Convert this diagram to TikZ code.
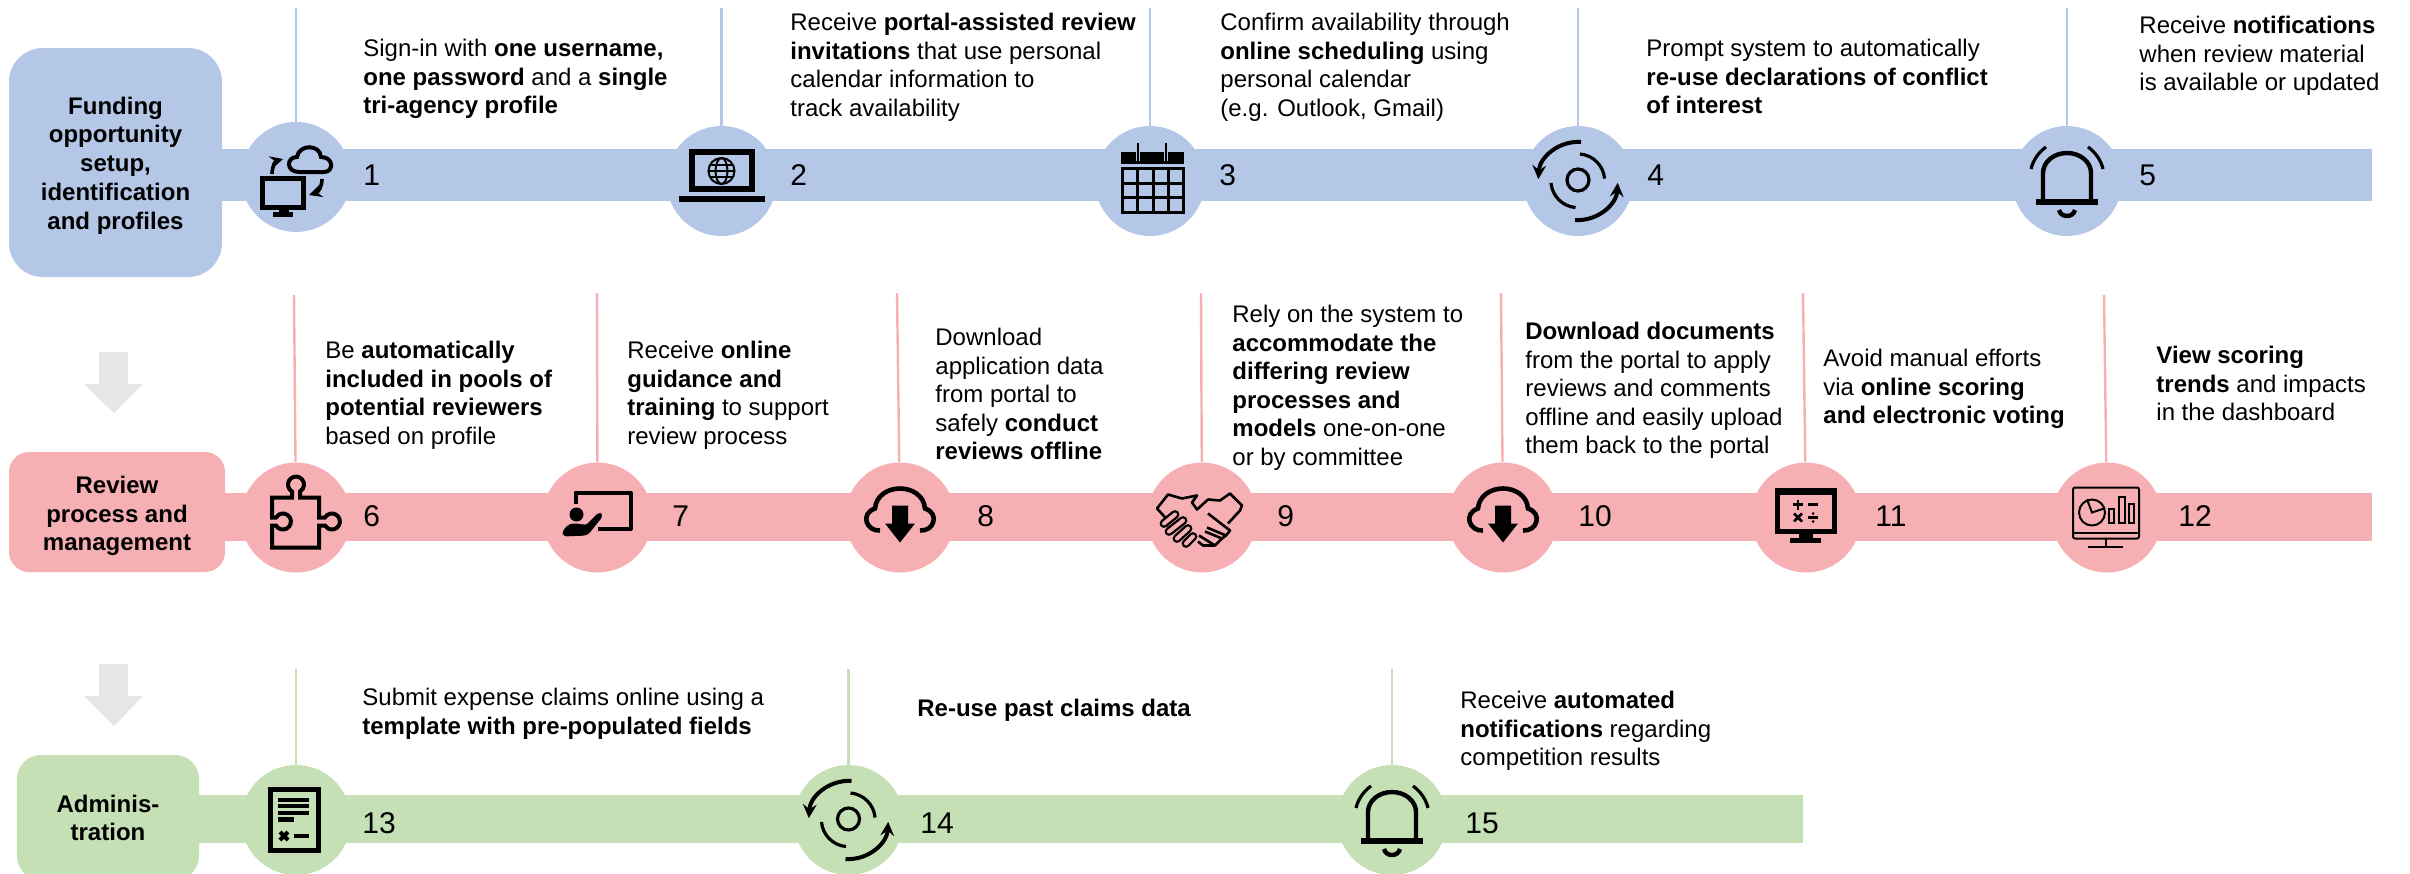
\documentclass[tikz,border=0pt]{standalone}
\usepackage{fontspec}
\setmainfont{Liberation Sans}
\usetikzlibrary{arrows}

\definecolor{rowblue}{HTML}{B4C7E7}
\definecolor{rowpink}{HTML}{F6B0B4}
\definecolor{rowgreen}{HTML}{C5E0B4}
\definecolor{hintgray}{HTML}{E6E6E6}

\tikzset{
  syncpair/.pic={
    \draw[line width=2.5pt] (-34,1) rectangle (7,30);
    \fill (-17,30) rectangle (-7,36);
    \fill (-23,35) rectangle (-3,40);
    \draw[line width=2pt] (3,-5) .. controls (-10,-5) and (-10,-20) .. (1,-20)
      .. controls (3,-33) and (24,-33) .. (25,-20)
      .. controls (38,-20) and (38,-5) .. (28,-5) -- cycle;
    \draw[->,line width=1.8pt] (-24,-3) .. controls (-24,-11) and (-20,-16) .. (-13,-18);
    \draw[->,line width=1.8pt] (26,2) .. controls (26,10) and (22,15) .. (13,18);
  },
  laptop/.pic={
    \draw[line width=3pt] (-30,-29) rectangle (30,8);
    \fill (-43,15) rectangle (43,21);
    \draw[line width=1pt] (0,-10) circle[radius=13];
    \draw[line width=1pt] (0,-10) ellipse[x radius=6,y radius=13];
    \draw[line width=1pt] (-13,-10) -- (13,-10) (-11,-16) -- (11,-16) (-11,-4) -- (11,-4);
  },
  calendar/.pic={
    \fill (-29,-29) rectangle (34,-17);
    \draw[line width=1.5pt] (-28,-13) rectangle (33,31);
    \foreach \gx in {-13,3,18} \draw[line width=1.5pt] (\gx,-13) -- (\gx,31);
    \foreach \gy in {2,16} \draw[line width=1.5pt] (-28,\gy) -- (33,\gy);
    \draw[line width=2pt,rowblue] (-12,-38) -- (-12,-20) (16,-38) -- (16,-20);
    \draw[line width=1pt] (-12,-38) -- (-12,-20) (16,-38) -- (16,-20);
  },
  reuse/.pic={
    \draw[line width=1.6pt] (0,-1) circle[radius=11];
    \draw[line width=1.6pt] (2,-27) arc[start angle=-85,end angle=-5,radius=27];
    \draw[line width=1.6pt] (-27,2) arc[start angle=175,end angle=95,radius=27];
    \draw[->,line width=2pt] (3,-39) arc[start angle=-86,end angle=-176,radius=40];
    \draw[->,line width=2pt] (-3,39) arc[start angle=94,end angle=4,radius=40];
  },
  alarm/.pic={
    \draw[line width=2.2pt] (-24,19) -- (-24,-8) arc[start angle=180,end angle=360,x radius=24,y radius=20] -- (24,19);
    \fill (-31,18) rectangle (31,24);
    \draw[line width=2.2pt] (-8,29) .. controls (-6,37) and (6,37) .. (8,29);
    \draw[line width=1.6pt] (-36,-12) .. controls (-34,-21) and (-28,-29) .. (-21,-34);
    \draw[line width=1.6pt] (36,-12) .. controls (34,-21) and (28,-29) .. (21,-34);
  },
  puzzle/.pic={
    \draw[line width=2pt] (-24,-20) -- (-4,-20) -- (-4,-26)
      arc[start angle=120,end angle=420,radius=8] -- (4,-20) -- (23,-20) -- (23,0) -- (29,0)
      arc[start angle=210,end angle=510,radius=8] -- (23,8) -- (23,30) -- (-24,30) -- (-24,8) -- (-20,8)
      arc[start angle=150,end angle=-150,radius=8] -- (-24,0) -- cycle;
  },
  trainer/.pic={
    \draw[line width=2pt,line join=round] (-22,-14) -- (-22,-25) -- (33,-25) -- (33,11) -- (0,11);
    \fill (-21,-3) circle[radius=7];
    \fill[rounded corners=2pt] (-35,19) -- (-35,13) -- (-28,6) -- (-16,6) -- (-13,9) -- (2,-6) -- (6,-2) -- (-10,18) -- cycle;
  },
  download/.pic={
    \draw[line width=2.3pt] (-20,13) .. controls (-34,14) and (-40,-4) .. (-25,-9)
      .. controls (-24,-22) and (-12,-29) .. (0,-29)
      .. controls (12,-29) and (24,-22) .. (25,-9)
      .. controls (40,-4) and (34,14) .. (20,13);
    \fill (-8,-12) -- (8,-12) -- (8,6) -- (15,6) -- (0,25) -- (-15,6) -- (-8,6) -- cycle;
  },
  handshake/.pic={
    \draw[line width=1.3pt,line join=round] (-34,3) -- (-45,-9) -- (-34,-23) -- (-20,-19) -- (-5,-22) -- (-10,-15) -- (-5,-8) -- (6,-18) -- (18,-17) -- (28,-24) -- (40,-12) -- (38,-7) -- (26,6);
    \draw[line width=1.3pt,line join=round] (6,-4) -- (28,13) -- (24,18) -- (5,10);
    \draw[line width=1.3pt,line join=round] (24,18) -- (20,21) -- (3,14);
    \draw[line width=1.3pt,line join=round] (20,21) -- (13,28) -- (-3,18);
    \draw[line width=1.3pt,line join=round] (13,28) -- (1,28) -- (-4,24);
    \foreach \fa/\fb/\fc/\fd in {-38/6/-27/-3,-33/14/-19/3,-25/21/-14/11,-16/26/-9/19} {
      \draw[line width=4.4pt,line cap=round] (\fa,\fb) -- (\fc,\fd);
      \draw[line width=2pt,line cap=round,rowpink] (\fa,\fb) -- (\fc,\fd);
    }
  },
  scoring/.pic={
    \draw[line width=2.5pt] (-29,-27) rectangle (28,14);
    \fill (-31,-29) rectangle (30,-23);
    \fill (-7,16) rectangle (7,21);
    \fill (-16,20) rectangle (15,25);
    \draw[line width=1.3pt] (-13,-13) -- (-3,-13) (-8,-18) -- (-8,-8);
    \draw[line width=1.3pt] (2,-13) -- (12,-13);
    \draw[line width=1.3pt] (-12,-4) -- (-4,4) (-12,4) -- (-4,-4);
    \draw[line width=1.3pt] (2,0) -- (12,0);
    \fill (7,-4) circle[radius=1.5] (7,4) circle[radius=1.5];
  },
  dashboard/.pic={
    \draw[line width=1pt,rounded corners=1pt] (-34,-30) rectangle (32,21);
    \draw[line width=1pt] (-34,15) -- (32,15);
    \draw[line width=1pt] (-1,21) -- (-1,29);
    \draw[line width=1pt] (-19,29) -- (16,29);
    \draw[line width=1pt] (-15,-5) circle[radius=13];
    \draw[line width=1pt] (-20,-18) -- (-15,-5) -- (-3,-9);
    \draw[line width=1pt] (2,-9) rectangle (7,5);
    \draw[line width=1pt] (12,-21) rectangle (18,5);
    \draw[line width=1pt] (22,-14) rectangle (27,5);
  },
  claimdoc/.pic={
    \draw[line width=2.5pt] (-26,-31) rectangle (22,30);
    \fill (-18,-22) rectangle (13,-18);
    \fill (-18,-16) rectangle (13,-12);
    \fill (-18,-9) rectangle (13,-5);
    \fill (-18,-3) rectangle (-2,2);
    \draw[line width=2pt] (-16,12) -- (-8,20) (-16,20) -- (-8,12);
    \fill (-2,14) rectangle (13,18);
  }
}

\begin{document}
\begin{tikzpicture}[x=0.5pt,y=-0.5pt,>=stealth,
    stagebox/.style={rounded corners=#1, inner sep=0pt},
    stagetext/.style={inner sep=0pt, align=center,
      font=\fontsize{12}{14.4}\selectfont\bfseries},
    stepdot/.style={circle, minimum size=55pt, inner sep=0pt},
    stepnote/.style={anchor=north west, inner sep=0pt, align=left, yshift=4.6pt,
      font=\fontsize{12}{14.3}\selectfont},
    stepnum/.style={anchor=west, inner sep=0pt, font=\fontsize{15}{17}\selectfont},
    linkline/.style={line width=1.2pt},
    hintarrow/.style={fill=hintgray}]
    \useasboundingbox (0,0) rectangle (2410,873);
    % the three bars
    \fill[rowblue] (200,149) rectangle (2372,201);
    \fill[rowpink] (200,493) rectangle (2372,541);
    \fill[rowgreen] (180,795) rectangle (1803,843);
    % stage boxes
    \node[stagebox=17pt,fill=rowblue,minimum width=106.5pt,minimum height=114.5pt] (S1) at (115.5,162.5) {};
    \node[stagebox=10pt,fill=rowpink,minimum width=108pt,minimum height=60pt] (S2) at (117,512) {};
    \node[stagebox=12pt,fill=rowgreen,minimum width=91pt,minimum height=62.5pt] (S3) at (108,817.5) {};
    \node[stagetext] (L1) at (115.5,165.5) {Funding\\opportunity\\setup,\\identification\\and profiles};
    \node[stagetext] (L2) at (117,516) {Review\\process and\\management};
    \node[stagetext] (L3) at (108,818) {Adminis-\\tration};
    % arrows between the rows
    \fill[hintarrow] (99,352) -- (128,352) -- (128,384) -- (143,384) -- (114,413) -- (84,384) -- (99,384) -- cycle;
    \fill[hintarrow] (99,664) -- (128,664) -- (128,696) -- (143,696) -- (114,726) -- (84,696) -- (99,696) -- cycle;
    % first row
    \node[stepdot,fill=rowblue] (C1) at (296,177) {};
    \node[stepdot,fill=rowblue] (C2) at (721.5,181) {};
    \node[stepdot,fill=rowblue] (C3) at (1150,181) {};
    \node[stepdot,fill=rowblue] (C4) at (1578,181) {};
    \node[stepdot,fill=rowblue] (C5) at (2067,181) {};
    \coordinate (T1) at (296,8);
    \coordinate (T2) at (721.5,8);
    \coordinate (T3) at (1150,8);
    \coordinate (T4) at (1578,8);
    \coordinate (T5) at (2067,8);
    \draw[linkline,rowblue] (T1) -- (C1);
    \draw[linkline,rowblue] (T2) -- (C2);
    \draw[linkline,rowblue] (T3) -- (C3);
    \draw[linkline,rowblue] (T4) -- (C4);
    \draw[linkline,rowblue] (T5) -- (C5);
    \pic at (C1) {syncpair};
    \pic at (C2) {laptop};
    \pic at (C3) {calendar};
    \pic at (C4) {reuse};
    \pic at (C5) {alarm};
    \node[stepnum] (N1) at (363,175) {1};
    \node[stepnum] (N2) at (790,175) {2};
    \node[stepnum] (N3) at (1219,175) {3};
    \node[stepnum] (N4) at (1647,175) {4};
    \node[stepnum] (N5) at (2139,175) {5};
    \node[stepnote] (D1) at (363,48) {Sign-in with \textbf{one username,}\\\textbf{one password} and a \textbf{single}\\\textbf{tri-agency profile}};
    \node[stepnote] (D2) at (790,22) {Receive \textbf{portal-assisted review}\\\textbf{invitations} that use personal\\calendar information to\\track availability};
    \node[stepnote] (D3) at (1220,22) {Confirm availability through\\\textbf{online scheduling} using\\personal calendar\\(e.g. Outlook, Gmail)};
    \node[stepnote] (D4) at (1646,48) {Prompt system to automatically\\\textbf{re-use declarations of conflict}\\\textbf{of interest}};
    \node[stepnote] (D5) at (2139,25) {Receive \textbf{notifications}\\when review material\\is available or updated};
    % second row
    \node[stepdot,fill=rowpink] (C6) at (296,517.5) {};
    \node[stepdot,fill=rowpink] (C7) at (597.5,517.5) {};
    \node[stepdot,fill=rowpink] (C8) at (900,517.5) {};
    \node[stepdot,fill=rowpink] (C9) at (1202,517.5) {};
    \node[stepdot,fill=rowpink] (C10) at (1503,517.5) {};
    \node[stepdot,fill=rowpink] (C11) at (1806,517.5) {};
    \node[stepdot,fill=rowpink] (C12) at (2107,517.5) {};
    \coordinate (T6) at (294,295);
    \coordinate (T7) at (597,293);
    \coordinate (T8) at (897,293);
    \coordinate (T9) at (1201,293);
    \coordinate (T10) at (1501,293);
    \coordinate (T11) at (1803,293);
    \coordinate (T12) at (2104,295);
    \draw[linkline,rowpink] (T6) -- (C6);
    \draw[linkline,rowpink] (T7) -- (C7);
    \draw[linkline,rowpink] (T8) -- (C8);
    \draw[linkline,rowpink] (T9) -- (C9);
    \draw[linkline,rowpink] (T10) -- (C10);
    \draw[linkline,rowpink] (T11) -- (C11);
    \draw[linkline,rowpink] (T12) -- (C12);
    \pic at (C6) {puzzle};
    \pic at (C7) {trainer};
    \pic at (C8) {download};
    \pic at (C9) {handshake};
    \pic at (C10) {download};
    \pic at (C11) {scoring};
    \pic at (C12) {dashboard};
    \node[stepnum] (N6) at (363,516) {6};
    \node[stepnum] (N7) at (672,516) {7};
    \node[stepnum] (N8) at (977,516) {8};
    \node[stepnum] (N9) at (1277,516) {9};
    \node[stepnum] (N10) at (1578,516) {10};
    \node[stepnum] (N11) at (1875,516) {11};
    \node[stepnum] (N12) at (2178,516) {12};
    \node[stepnote] (D6) at (325,350) {Be \textbf{automatically}\\\textbf{included in pools of}\\\textbf{potential reviewers}\\based on profile};
    \node[stepnote] (D7) at (627,350) {Receive \textbf{online}\\\textbf{guidance and}\\\textbf{training} to support\\review process};
    \node[stepnote] (D8) at (935,337) {Download\\application data\\from portal to\\safely \textbf{conduct}\\\textbf{reviews offline}};
    \node[stepnote] (D9) at (1232,314) {Rely on the system to\\\textbf{accommodate the}\\\textbf{differing review}\\\textbf{processes and}\\\textbf{models} one-on-one\\or by committee};
    \node[stepnote] (D10) at (1525,331) {\textbf{Download documents}\\from the portal to apply\\reviews and comments\\offline and easily upload\\them back to the portal};
    \node[stepnote] (D11) at (1823,358) {Avoid manual efforts\\via \textbf{online scoring}\\\textbf{and electronic voting}};
    \node[stepnote] (D12) at (2156,355) {\textbf{View scoring}\\\textbf{trends} and impacts\\in the dashboard};
    % third row
    \node[stepdot,fill=rowgreen] (C13) at (296,820) {};
    \node[stepdot,fill=rowgreen] (C14) at (848.5,820) {};
    \node[stepdot,fill=rowgreen] (C15) at (1392,820) {};
    \coordinate (T13) at (296,669);
    \coordinate (T14) at (848.5,669);
    \coordinate (T15) at (1392,669);
    \draw[linkline,rowgreen] (T13) -- (C13);
    \draw[linkline,rowgreen] (T14) -- (C14);
    \draw[linkline,rowgreen] (T15) -- (C15);
    \pic at (C13) {claimdoc};
    \pic at (C14) {reuse};
    \pic at (C15) {alarm};
    \node[stepnum] (N13) at (362,823) {13};
    \node[stepnum] (N14) at (920,823) {14};
    \node[stepnum] (N15) at (1465,823) {15};
    \node[stepnote] (D13) at (362,697) {Submit expense claims online using a\\\textbf{template with pre-populated fields}};
    \node[stepnote] (D14) at (917,708) {\textbf{Re-use past claims data}};
    \node[stepnote] (D15) at (1460,700) {Receive \textbf{automated}\\\textbf{notifications} regarding\\competition results};
\end{tikzpicture}
\end{document}
